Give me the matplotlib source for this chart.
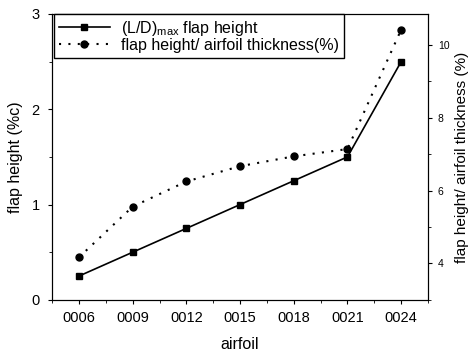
import matplotlib
matplotlib.use('Agg')
from matplotlib import pyplot
from matplotlib.ticker import MultipleLocator
import numpy as np

# data
airfoils = ['0006', '0009', '0012', '0015', '0018', '0021', '0024']
flap_height = [0.25, 0.50, 0.75, 1.00, 1.25, 1.50, 2.50]
flap_ratio = [4.17, 5.56, 6.25, 6.67, 6.94, 7.14, 10.42]

pyplot.rcParams['font.family'] = ['Liberation Sans', 'DejaVu Sans']
pyplot.rcParams['mathtext.fontset'] = 'custom'
pyplot.rcParams['mathtext.rm'] = 'Liberation Sans'

fig = pyplot.figure(figsize=(4.74, 3.57), dpi=100)
ax = fig.add_axes([0.110, 0.160, 0.793, 0.801])
ax2 = ax.twinx()

x = np.arange(len(airfoils))
l1, = ax.plot(x, flap_height, 'k-', marker='s', markersize=4.5, linewidth=1.2,
	label='(L/D)$_{\\mathregular{max}}$ flap height')
l2, = ax2.plot(x, flap_ratio, color='k', linestyle=(0, (1, 3.5)), marker='o', markersize=5,
	linewidth=1.5, label='flap height/ airfoil thickness(%)')

ax.set_xlim(-0.5, 6.5)
ax.set_ylim(0, 3)
ax2.set_ylim(3, 10.85)

ax.set_xticks(x)
ax.set_xticklabels(airfoils)
ax.xaxis.set_minor_locator(MultipleLocator(0.5))
ax.yaxis.set_major_locator(MultipleLocator(1))
ax.yaxis.set_minor_locator(MultipleLocator(0.5))
ax2.yaxis.set_major_locator(MultipleLocator(2))
ax2.yaxis.set_minor_locator(MultipleLocator(1))

ax.tick_params(axis='both', which='major', direction='out', length=3, labelsize=10.5)
ax.tick_params(axis='x', which='major', pad=5)
ax.tick_params(axis='y', which='major', pad=6)
ax.tick_params(axis='both', which='minor', direction='out', length=2)
ax2.tick_params(axis='y', which='major', direction='out', length=3, labelsize=7.5, pad=4)
ax2.tick_params(axis='y', which='minor', direction='out', length=2)

ax.set_xlabel('airfoil', fontsize=11.5, labelpad=9)
ax.set_ylabel('flap height (%c)', fontsize=11.5, labelpad=6)
ax2.set_ylabel('flap height/ airfoil thickness (%)', fontsize=11, labelpad=4)

leg = ax2.legend([l1, l2], [l1.get_label(), l2.get_label()], loc='upper left',
	bbox_to_anchor=(0.005, 1.0), borderaxespad=0, fancybox=False, framealpha=1,
	fontsize=11.5, handlelength=3.2, handletextpad=0.7, borderpad=0.3, labelspacing=0.0)
leg.get_frame().set_edgecolor('k')
leg.get_frame().set_linewidth(1.0)

pyplot.savefig('out.png', dpi=100)
pyplot.close()
